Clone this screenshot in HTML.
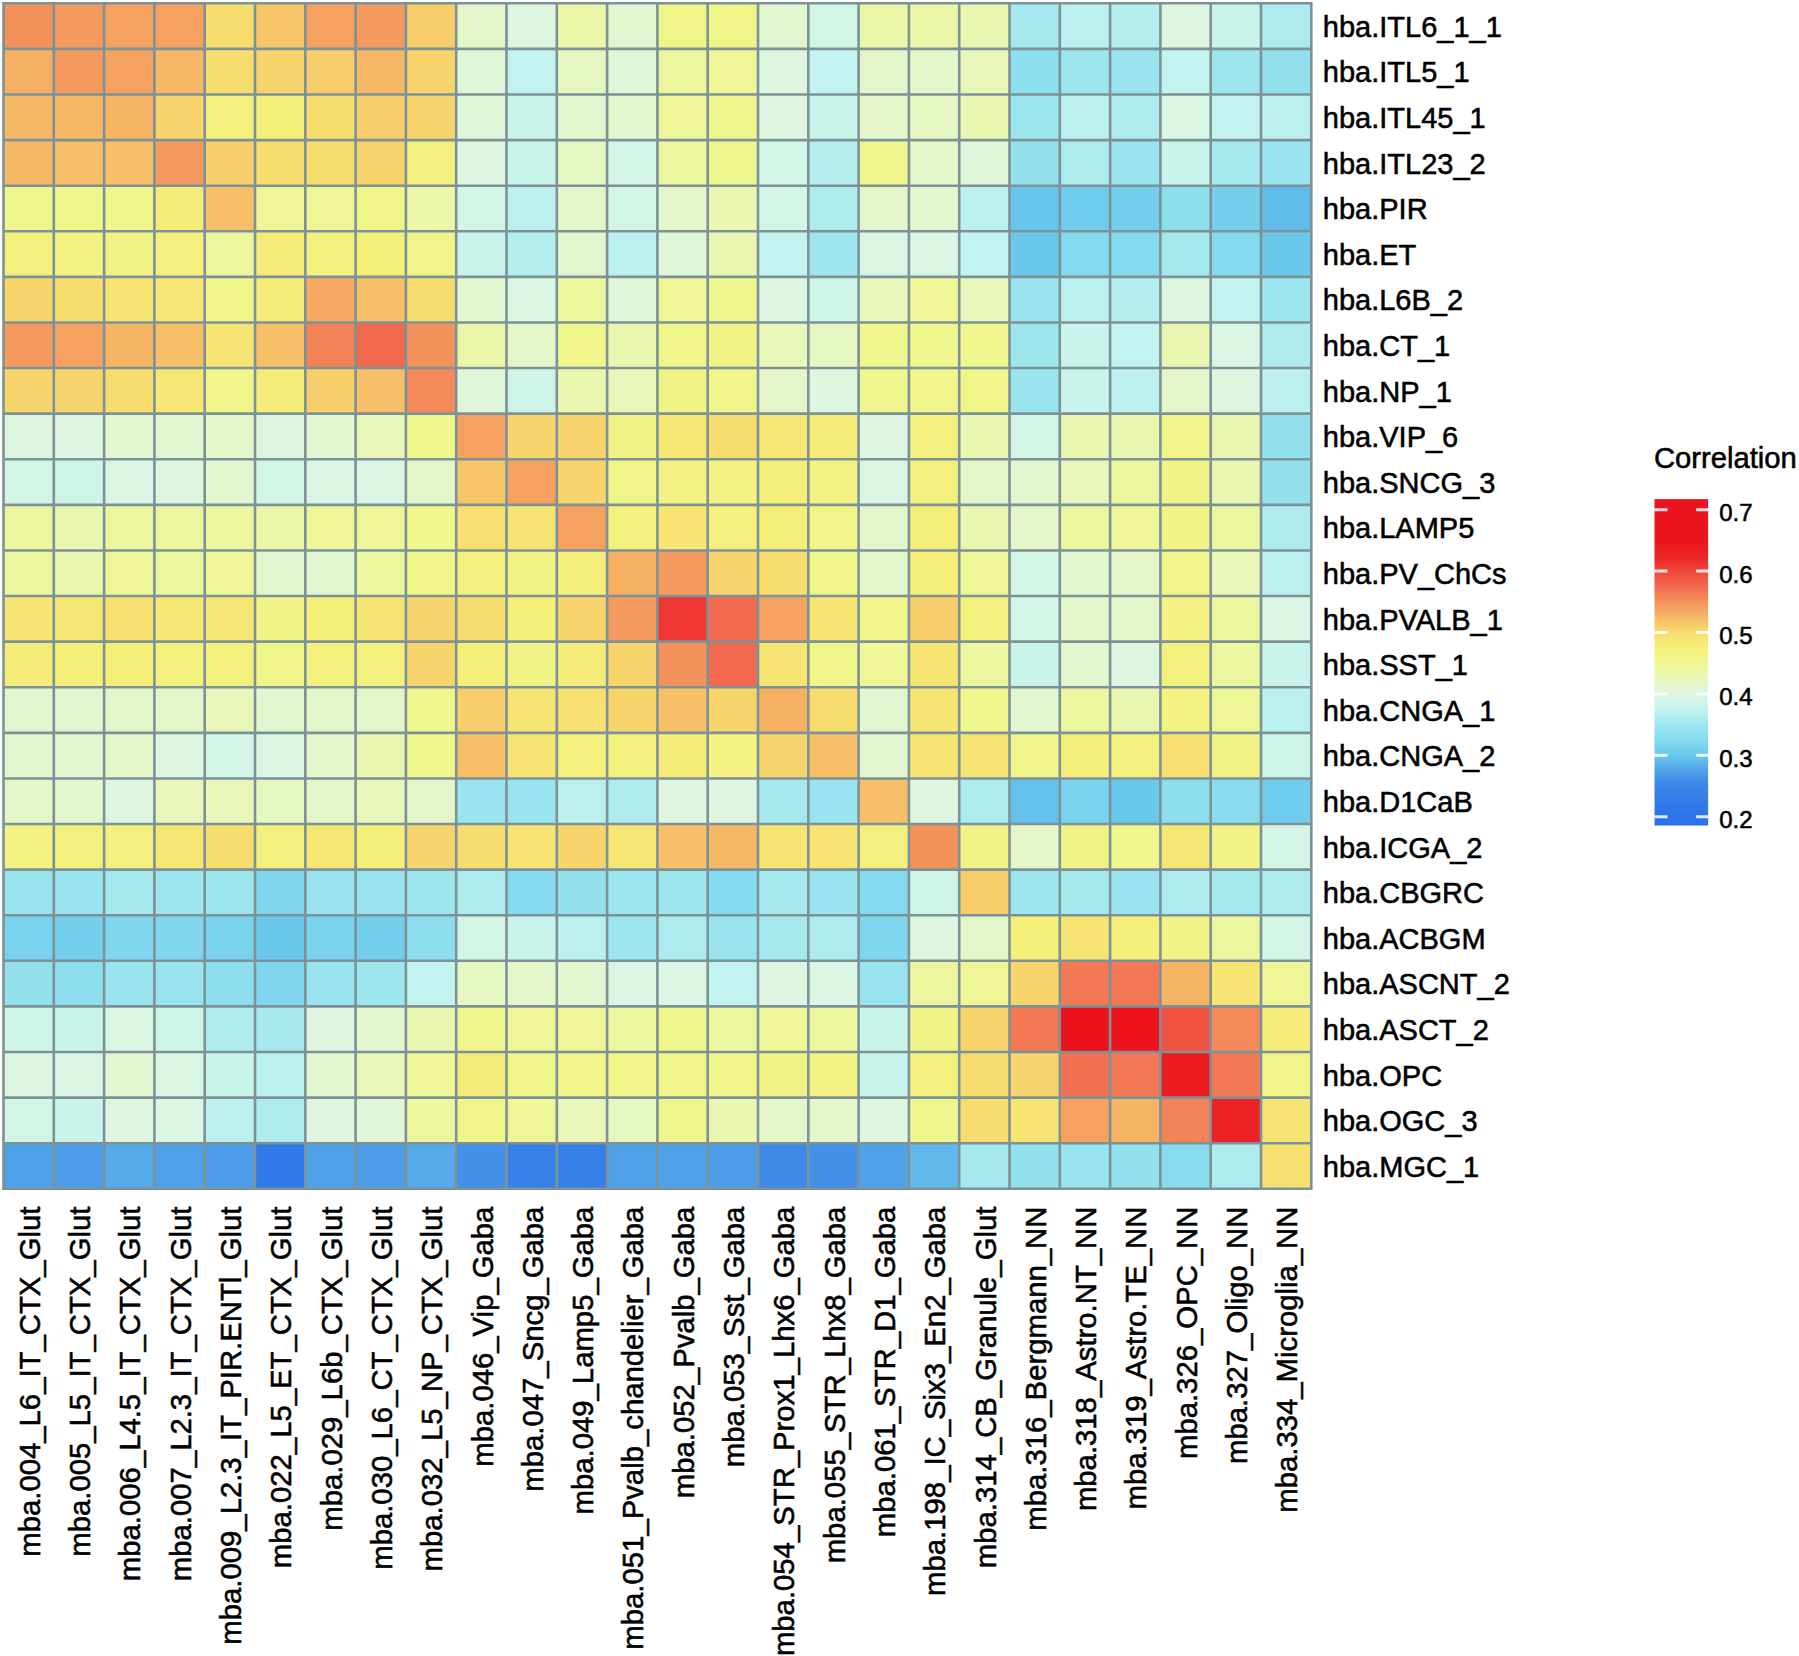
<!DOCTYPE html><html><head><meta charset="utf-8"><style>html,body{margin:0;padding:0;background:#fff;width:1799px;height:1656px;overflow:hidden}svg{display:block}text{font-family:"Liberation Sans",Arial,Helvetica,sans-serif;fill:#000;stroke:#000;stroke-width:0.55px}</style></head><body>
<svg width="1799" height="1656" viewBox="0 0 1799 1656">
<rect x="3.50" y="3.30" width="50.30" height="45.60" fill="#f4925c"/>
<rect x="53.80" y="3.30" width="50.30" height="45.60" fill="#f49a5e"/>
<rect x="104.10" y="3.30" width="50.30" height="45.60" fill="#f5a160"/>
<rect x="154.40" y="3.30" width="50.30" height="45.60" fill="#f5a160"/>
<rect x="204.70" y="3.30" width="50.30" height="45.60" fill="#f7dc6e"/>
<rect x="255.00" y="3.30" width="50.30" height="45.60" fill="#f6c669"/>
<rect x="305.30" y="3.30" width="50.30" height="45.60" fill="#f5a160"/>
<rect x="355.60" y="3.30" width="50.30" height="45.60" fill="#f49a5e"/>
<rect x="405.90" y="3.30" width="50.30" height="45.60" fill="#f7ce6b"/>
<rect x="456.20" y="3.30" width="50.30" height="45.60" fill="#e4f6c9"/>
<rect x="506.50" y="3.30" width="50.30" height="45.60" fill="#def6e0"/>
<rect x="556.80" y="3.30" width="50.30" height="45.60" fill="#ebf6a8"/>
<rect x="607.10" y="3.30" width="50.30" height="45.60" fill="#e2f6d0"/>
<rect x="657.40" y="3.30" width="50.30" height="45.60" fill="#f0f58a"/>
<rect x="707.70" y="3.30" width="50.30" height="45.60" fill="#f0f58a"/>
<rect x="758.00" y="3.30" width="50.30" height="45.60" fill="#e2f6d0"/>
<rect x="808.30" y="3.30" width="50.30" height="45.60" fill="#d3f5e6"/>
<rect x="858.60" y="3.30" width="50.30" height="45.60" fill="#ebf6a8"/>
<rect x="908.90" y="3.30" width="50.30" height="45.60" fill="#ebf6a8"/>
<rect x="959.20" y="3.30" width="50.30" height="45.60" fill="#e9f6b0"/>
<rect x="1009.50" y="3.30" width="50.30" height="45.60" fill="#a5e9ee"/>
<rect x="1059.80" y="3.30" width="50.30" height="45.60" fill="#bcf0ee"/>
<rect x="1110.10" y="3.30" width="50.30" height="45.60" fill="#b4eeee"/>
<rect x="1160.40" y="3.30" width="50.30" height="45.60" fill="#def6e0"/>
<rect x="1210.70" y="3.30" width="50.30" height="45.60" fill="#c8f4eb"/>
<rect x="1261.00" y="3.30" width="50.30" height="45.60" fill="#adebee"/>
<rect x="3.50" y="48.90" width="50.30" height="45.60" fill="#f6b064"/>
<rect x="53.80" y="48.90" width="50.30" height="45.60" fill="#f49a5e"/>
<rect x="104.10" y="48.90" width="50.30" height="45.60" fill="#f5a160"/>
<rect x="154.40" y="48.90" width="50.30" height="45.60" fill="#f6b866"/>
<rect x="204.70" y="48.90" width="50.30" height="45.60" fill="#f7dc6e"/>
<rect x="255.00" y="48.90" width="50.30" height="45.60" fill="#f7d56c"/>
<rect x="305.30" y="48.90" width="50.30" height="45.60" fill="#f7ce6b"/>
<rect x="355.60" y="48.90" width="50.30" height="45.60" fill="#f6b866"/>
<rect x="405.90" y="48.90" width="50.30" height="45.60" fill="#f7d56c"/>
<rect x="456.20" y="48.90" width="50.30" height="45.60" fill="#e0f6d8"/>
<rect x="506.50" y="48.90" width="50.30" height="45.60" fill="#c3f3ee"/>
<rect x="556.80" y="48.90" width="50.30" height="45.60" fill="#e6f6c1"/>
<rect x="607.10" y="48.90" width="50.30" height="45.60" fill="#e0f6d8"/>
<rect x="657.40" y="48.90" width="50.30" height="45.60" fill="#ecf69f"/>
<rect x="707.70" y="48.90" width="50.30" height="45.60" fill="#eef697"/>
<rect x="758.00" y="48.90" width="50.30" height="45.60" fill="#def6e0"/>
<rect x="808.30" y="48.90" width="50.30" height="45.60" fill="#c3f3ee"/>
<rect x="858.60" y="48.90" width="50.30" height="45.60" fill="#e4f6c9"/>
<rect x="908.90" y="48.90" width="50.30" height="45.60" fill="#e4f6c9"/>
<rect x="959.20" y="48.90" width="50.30" height="45.60" fill="#e8f6b9"/>
<rect x="1009.50" y="48.90" width="50.30" height="45.60" fill="#8edfee"/>
<rect x="1059.80" y="48.90" width="50.30" height="45.60" fill="#9ee6ee"/>
<rect x="1110.10" y="48.90" width="50.30" height="45.60" fill="#99e4ee"/>
<rect x="1160.40" y="48.90" width="50.30" height="45.60" fill="#c3f3ee"/>
<rect x="1210.70" y="48.90" width="50.30" height="45.60" fill="#9ee6ee"/>
<rect x="1261.00" y="48.90" width="50.30" height="45.60" fill="#94e1ee"/>
<rect x="3.50" y="94.49" width="50.30" height="45.60" fill="#f6b866"/>
<rect x="53.80" y="94.49" width="50.30" height="45.60" fill="#f6b866"/>
<rect x="104.10" y="94.49" width="50.30" height="45.60" fill="#f6b565"/>
<rect x="154.40" y="94.49" width="50.30" height="45.60" fill="#f7d56c"/>
<rect x="204.70" y="94.49" width="50.30" height="45.60" fill="#f4f07e"/>
<rect x="255.00" y="94.49" width="50.30" height="45.60" fill="#f5ef7a"/>
<rect x="305.30" y="94.49" width="50.30" height="45.60" fill="#f7dc6e"/>
<rect x="355.60" y="94.49" width="50.30" height="45.60" fill="#f7ce6b"/>
<rect x="405.90" y="94.49" width="50.30" height="45.60" fill="#f7d56c"/>
<rect x="456.20" y="94.49" width="50.30" height="45.60" fill="#e0f6d8"/>
<rect x="506.50" y="94.49" width="50.30" height="45.60" fill="#c8f4eb"/>
<rect x="556.80" y="94.49" width="50.30" height="45.60" fill="#e2f6d0"/>
<rect x="607.10" y="94.49" width="50.30" height="45.60" fill="#e2f6d0"/>
<rect x="657.40" y="94.49" width="50.30" height="45.60" fill="#eef697"/>
<rect x="707.70" y="94.49" width="50.30" height="45.60" fill="#eff68e"/>
<rect x="758.00" y="94.49" width="50.30" height="45.60" fill="#def6e0"/>
<rect x="808.30" y="94.49" width="50.30" height="45.60" fill="#c8f4eb"/>
<rect x="858.60" y="94.49" width="50.30" height="45.60" fill="#e4f6c9"/>
<rect x="908.90" y="94.49" width="50.30" height="45.60" fill="#e6f6c1"/>
<rect x="959.20" y="94.49" width="50.30" height="45.60" fill="#e9f6b0"/>
<rect x="1009.50" y="94.49" width="50.30" height="45.60" fill="#9ee6ee"/>
<rect x="1059.80" y="94.49" width="50.30" height="45.60" fill="#bcf0ee"/>
<rect x="1110.10" y="94.49" width="50.30" height="45.60" fill="#adebee"/>
<rect x="1160.40" y="94.49" width="50.30" height="45.60" fill="#d9f5e3"/>
<rect x="1210.70" y="94.49" width="50.30" height="45.60" fill="#c3f3ee"/>
<rect x="1261.00" y="94.49" width="50.30" height="45.60" fill="#bcf0ee"/>
<rect x="3.50" y="140.09" width="50.30" height="45.60" fill="#f6b866"/>
<rect x="53.80" y="140.09" width="50.30" height="45.60" fill="#f6bf68"/>
<rect x="104.10" y="140.09" width="50.30" height="45.60" fill="#f6bf68"/>
<rect x="154.40" y="140.09" width="50.30" height="45.60" fill="#f49a5e"/>
<rect x="204.70" y="140.09" width="50.30" height="45.60" fill="#f7ce6b"/>
<rect x="255.00" y="140.09" width="50.30" height="45.60" fill="#f7dc6e"/>
<rect x="305.30" y="140.09" width="50.30" height="45.60" fill="#f7dc6e"/>
<rect x="355.60" y="140.09" width="50.30" height="45.60" fill="#f7d56c"/>
<rect x="405.90" y="140.09" width="50.30" height="45.60" fill="#f4f07e"/>
<rect x="456.20" y="140.09" width="50.30" height="45.60" fill="#def6e0"/>
<rect x="506.50" y="140.09" width="50.30" height="45.60" fill="#c8f4eb"/>
<rect x="556.80" y="140.09" width="50.30" height="45.60" fill="#e6f6c1"/>
<rect x="607.10" y="140.09" width="50.30" height="45.60" fill="#d3f5e6"/>
<rect x="657.40" y="140.09" width="50.30" height="45.60" fill="#ecf69f"/>
<rect x="707.70" y="140.09" width="50.30" height="45.60" fill="#eff68e"/>
<rect x="758.00" y="140.09" width="50.30" height="45.60" fill="#d3f5e6"/>
<rect x="808.30" y="140.09" width="50.30" height="45.60" fill="#b4eeee"/>
<rect x="858.60" y="140.09" width="50.30" height="45.60" fill="#eff68e"/>
<rect x="908.90" y="140.09" width="50.30" height="45.60" fill="#e4f6c9"/>
<rect x="959.20" y="140.09" width="50.30" height="45.60" fill="#e0f6d8"/>
<rect x="1009.50" y="140.09" width="50.30" height="45.60" fill="#94e1ee"/>
<rect x="1059.80" y="140.09" width="50.30" height="45.60" fill="#adebee"/>
<rect x="1110.10" y="140.09" width="50.30" height="45.60" fill="#99e4ee"/>
<rect x="1160.40" y="140.09" width="50.30" height="45.60" fill="#c8f4eb"/>
<rect x="1210.70" y="140.09" width="50.30" height="45.60" fill="#a5e9ee"/>
<rect x="1261.00" y="140.09" width="50.30" height="45.60" fill="#99e4ee"/>
<rect x="3.50" y="185.68" width="50.30" height="45.60" fill="#eff68e"/>
<rect x="53.80" y="185.68" width="50.30" height="45.60" fill="#eff68e"/>
<rect x="104.10" y="185.68" width="50.30" height="45.60" fill="#eff68e"/>
<rect x="154.40" y="185.68" width="50.30" height="45.60" fill="#f5eb78"/>
<rect x="204.70" y="185.68" width="50.30" height="45.60" fill="#f6bf68"/>
<rect x="255.00" y="185.68" width="50.30" height="45.60" fill="#eef697"/>
<rect x="305.30" y="185.68" width="50.30" height="45.60" fill="#eef697"/>
<rect x="355.60" y="185.68" width="50.30" height="45.60" fill="#f0f58a"/>
<rect x="405.90" y="185.68" width="50.30" height="45.60" fill="#ebf6a8"/>
<rect x="456.20" y="185.68" width="50.30" height="45.60" fill="#d3f5e6"/>
<rect x="506.50" y="185.68" width="50.30" height="45.60" fill="#bcf0ee"/>
<rect x="556.80" y="185.68" width="50.30" height="45.60" fill="#e4f6c9"/>
<rect x="607.10" y="185.68" width="50.30" height="45.60" fill="#d3f5e6"/>
<rect x="657.40" y="185.68" width="50.30" height="45.60" fill="#e4f6c9"/>
<rect x="707.70" y="185.68" width="50.30" height="45.60" fill="#e9f6b0"/>
<rect x="758.00" y="185.68" width="50.30" height="45.60" fill="#d3f5e6"/>
<rect x="808.30" y="185.68" width="50.30" height="45.60" fill="#adebee"/>
<rect x="858.60" y="185.68" width="50.30" height="45.60" fill="#e4f6c9"/>
<rect x="908.90" y="185.68" width="50.30" height="45.60" fill="#e2f6d0"/>
<rect x="959.20" y="185.68" width="50.30" height="45.60" fill="#bcf0ee"/>
<rect x="1009.50" y="185.68" width="50.30" height="45.60" fill="#68c5ec"/>
<rect x="1059.80" y="185.68" width="50.30" height="45.60" fill="#6fccec"/>
<rect x="1110.10" y="185.68" width="50.30" height="45.60" fill="#74cfed"/>
<rect x="1160.40" y="185.68" width="50.30" height="45.60" fill="#8edfee"/>
<rect x="1210.70" y="185.68" width="50.30" height="45.60" fill="#74cfed"/>
<rect x="1261.00" y="185.68" width="50.30" height="45.60" fill="#62bceb"/>
<rect x="3.50" y="231.28" width="50.30" height="45.60" fill="#f4f07e"/>
<rect x="53.80" y="231.28" width="50.30" height="45.60" fill="#f3f282"/>
<rect x="104.10" y="231.28" width="50.30" height="45.60" fill="#f1f386"/>
<rect x="154.40" y="231.28" width="50.30" height="45.60" fill="#f4f07e"/>
<rect x="204.70" y="231.28" width="50.30" height="45.60" fill="#ecf69f"/>
<rect x="255.00" y="231.28" width="50.30" height="45.60" fill="#f5eb78"/>
<rect x="305.30" y="231.28" width="50.30" height="45.60" fill="#f4f07e"/>
<rect x="355.60" y="231.28" width="50.30" height="45.60" fill="#f5ef7a"/>
<rect x="405.90" y="231.28" width="50.30" height="45.60" fill="#f0f58a"/>
<rect x="456.20" y="231.28" width="50.30" height="45.60" fill="#c8f4eb"/>
<rect x="506.50" y="231.28" width="50.30" height="45.60" fill="#b4eeee"/>
<rect x="556.80" y="231.28" width="50.30" height="45.60" fill="#e2f6d0"/>
<rect x="607.10" y="231.28" width="50.30" height="45.60" fill="#bcf0ee"/>
<rect x="657.40" y="231.28" width="50.30" height="45.60" fill="#e0f6d8"/>
<rect x="707.70" y="231.28" width="50.30" height="45.60" fill="#e9f6b0"/>
<rect x="758.00" y="231.28" width="50.30" height="45.60" fill="#c3f3ee"/>
<rect x="808.30" y="231.28" width="50.30" height="45.60" fill="#9ee6ee"/>
<rect x="858.60" y="231.28" width="50.30" height="45.60" fill="#d9f5e3"/>
<rect x="908.90" y="231.28" width="50.30" height="45.60" fill="#d9f5e3"/>
<rect x="959.20" y="231.28" width="50.30" height="45.60" fill="#c3f3ee"/>
<rect x="1009.50" y="231.28" width="50.30" height="45.60" fill="#6ac8ec"/>
<rect x="1059.80" y="231.28" width="50.30" height="45.60" fill="#84daee"/>
<rect x="1110.10" y="231.28" width="50.30" height="45.60" fill="#84daee"/>
<rect x="1160.40" y="231.28" width="50.30" height="45.60" fill="#a5e9ee"/>
<rect x="1210.70" y="231.28" width="50.30" height="45.60" fill="#84daee"/>
<rect x="1261.00" y="231.28" width="50.30" height="45.60" fill="#6ac8ec"/>
<rect x="3.50" y="276.88" width="50.30" height="45.60" fill="#f7d56c"/>
<rect x="53.80" y="276.88" width="50.30" height="45.60" fill="#f7dc6e"/>
<rect x="104.10" y="276.88" width="50.30" height="45.60" fill="#f6e473"/>
<rect x="154.40" y="276.88" width="50.30" height="45.60" fill="#f6e775"/>
<rect x="204.70" y="276.88" width="50.30" height="45.60" fill="#f0f58a"/>
<rect x="255.00" y="276.88" width="50.30" height="45.60" fill="#f5eb78"/>
<rect x="305.30" y="276.88" width="50.30" height="45.60" fill="#f5a962"/>
<rect x="355.60" y="276.88" width="50.30" height="45.60" fill="#f6bf68"/>
<rect x="405.90" y="276.88" width="50.30" height="45.60" fill="#f7dc6e"/>
<rect x="456.20" y="276.88" width="50.30" height="45.60" fill="#e2f6d0"/>
<rect x="506.50" y="276.88" width="50.30" height="45.60" fill="#d9f5e3"/>
<rect x="556.80" y="276.88" width="50.30" height="45.60" fill="#ecf69f"/>
<rect x="607.10" y="276.88" width="50.30" height="45.60" fill="#e0f6d8"/>
<rect x="657.40" y="276.88" width="50.30" height="45.60" fill="#eef697"/>
<rect x="707.70" y="276.88" width="50.30" height="45.60" fill="#eff68e"/>
<rect x="758.00" y="276.88" width="50.30" height="45.60" fill="#def6e0"/>
<rect x="808.30" y="276.88" width="50.30" height="45.60" fill="#cef4e8"/>
<rect x="858.60" y="276.88" width="50.30" height="45.60" fill="#e8f6b9"/>
<rect x="908.90" y="276.88" width="50.30" height="45.60" fill="#eef697"/>
<rect x="959.20" y="276.88" width="50.30" height="45.60" fill="#e8f6b9"/>
<rect x="1009.50" y="276.88" width="50.30" height="45.60" fill="#99e4ee"/>
<rect x="1059.80" y="276.88" width="50.30" height="45.60" fill="#bcf0ee"/>
<rect x="1110.10" y="276.88" width="50.30" height="45.60" fill="#b4eeee"/>
<rect x="1160.40" y="276.88" width="50.30" height="45.60" fill="#def6e0"/>
<rect x="1210.70" y="276.88" width="50.30" height="45.60" fill="#c3f3ee"/>
<rect x="1261.00" y="276.88" width="50.30" height="45.60" fill="#9ee6ee"/>
<rect x="3.50" y="322.47" width="50.30" height="45.60" fill="#f49a5e"/>
<rect x="53.80" y="322.47" width="50.30" height="45.60" fill="#f5a160"/>
<rect x="104.10" y="322.47" width="50.30" height="45.60" fill="#f6b565"/>
<rect x="154.40" y="322.47" width="50.30" height="45.60" fill="#f6bf68"/>
<rect x="204.70" y="322.47" width="50.30" height="45.60" fill="#f6e473"/>
<rect x="255.00" y="322.47" width="50.30" height="45.60" fill="#f6bf68"/>
<rect x="305.30" y="322.47" width="50.30" height="45.60" fill="#f38256"/>
<rect x="355.60" y="322.47" width="50.30" height="45.60" fill="#f2694e"/>
<rect x="405.90" y="322.47" width="50.30" height="45.60" fill="#f4925c"/>
<rect x="456.20" y="322.47" width="50.30" height="45.60" fill="#ebf6a8"/>
<rect x="506.50" y="322.47" width="50.30" height="45.60" fill="#e4f6c9"/>
<rect x="556.80" y="322.47" width="50.30" height="45.60" fill="#f0f58a"/>
<rect x="607.10" y="322.47" width="50.30" height="45.60" fill="#e9f6b0"/>
<rect x="657.40" y="322.47" width="50.30" height="45.60" fill="#f0f58a"/>
<rect x="707.70" y="322.47" width="50.30" height="45.60" fill="#f1f386"/>
<rect x="758.00" y="322.47" width="50.30" height="45.60" fill="#e8f6b9"/>
<rect x="808.30" y="322.47" width="50.30" height="45.60" fill="#e6f6c1"/>
<rect x="858.60" y="322.47" width="50.30" height="45.60" fill="#eff68e"/>
<rect x="908.90" y="322.47" width="50.30" height="45.60" fill="#eff68e"/>
<rect x="959.20" y="322.47" width="50.30" height="45.60" fill="#eff68e"/>
<rect x="1009.50" y="322.47" width="50.30" height="45.60" fill="#9ee6ee"/>
<rect x="1059.80" y="322.47" width="50.30" height="45.60" fill="#c8f4eb"/>
<rect x="1110.10" y="322.47" width="50.30" height="45.60" fill="#c3f3ee"/>
<rect x="1160.40" y="322.47" width="50.30" height="45.60" fill="#e9f6b0"/>
<rect x="1210.70" y="322.47" width="50.30" height="45.60" fill="#d9f5e3"/>
<rect x="1261.00" y="322.47" width="50.30" height="45.60" fill="#adebee"/>
<rect x="3.50" y="368.07" width="50.30" height="45.60" fill="#f7d56c"/>
<rect x="53.80" y="368.07" width="50.30" height="45.60" fill="#f7d56c"/>
<rect x="104.10" y="368.07" width="50.30" height="45.60" fill="#f7dc6e"/>
<rect x="154.40" y="368.07" width="50.30" height="45.60" fill="#f6e775"/>
<rect x="204.70" y="368.07" width="50.30" height="45.60" fill="#f0f58a"/>
<rect x="255.00" y="368.07" width="50.30" height="45.60" fill="#f5eb78"/>
<rect x="305.30" y="368.07" width="50.30" height="45.60" fill="#f7ce6b"/>
<rect x="355.60" y="368.07" width="50.30" height="45.60" fill="#f6bf68"/>
<rect x="405.90" y="368.07" width="50.30" height="45.60" fill="#f48a59"/>
<rect x="456.20" y="368.07" width="50.30" height="45.60" fill="#e0f6d8"/>
<rect x="506.50" y="368.07" width="50.30" height="45.60" fill="#cef4e8"/>
<rect x="556.80" y="368.07" width="50.30" height="45.60" fill="#e9f6b0"/>
<rect x="607.10" y="368.07" width="50.30" height="45.60" fill="#e8f6b9"/>
<rect x="657.40" y="368.07" width="50.30" height="45.60" fill="#f1f386"/>
<rect x="707.70" y="368.07" width="50.30" height="45.60" fill="#f0f58a"/>
<rect x="758.00" y="368.07" width="50.30" height="45.60" fill="#e4f6c9"/>
<rect x="808.30" y="368.07" width="50.30" height="45.60" fill="#def6e0"/>
<rect x="858.60" y="368.07" width="50.30" height="45.60" fill="#eff68e"/>
<rect x="908.90" y="368.07" width="50.30" height="45.60" fill="#f0f58a"/>
<rect x="959.20" y="368.07" width="50.30" height="45.60" fill="#f0f58a"/>
<rect x="1009.50" y="368.07" width="50.30" height="45.60" fill="#99e4ee"/>
<rect x="1059.80" y="368.07" width="50.30" height="45.60" fill="#c8f4eb"/>
<rect x="1110.10" y="368.07" width="50.30" height="45.60" fill="#bcf0ee"/>
<rect x="1160.40" y="368.07" width="50.30" height="45.60" fill="#e4f6c9"/>
<rect x="1210.70" y="368.07" width="50.30" height="45.60" fill="#def6e0"/>
<rect x="1261.00" y="368.07" width="50.30" height="45.60" fill="#bcf0ee"/>
<rect x="3.50" y="413.66" width="50.30" height="45.60" fill="#def6e0"/>
<rect x="53.80" y="413.66" width="50.30" height="45.60" fill="#def6e0"/>
<rect x="104.10" y="413.66" width="50.30" height="45.60" fill="#e2f6d0"/>
<rect x="154.40" y="413.66" width="50.30" height="45.60" fill="#e2f6d0"/>
<rect x="204.70" y="413.66" width="50.30" height="45.60" fill="#e4f6c9"/>
<rect x="255.00" y="413.66" width="50.30" height="45.60" fill="#def6e0"/>
<rect x="305.30" y="413.66" width="50.30" height="45.60" fill="#e2f6d0"/>
<rect x="355.60" y="413.66" width="50.30" height="45.60" fill="#e8f6b9"/>
<rect x="405.90" y="413.66" width="50.30" height="45.60" fill="#eff68e"/>
<rect x="456.20" y="413.66" width="50.30" height="45.60" fill="#f5a160"/>
<rect x="506.50" y="413.66" width="50.30" height="45.60" fill="#f7d56c"/>
<rect x="556.80" y="413.66" width="50.30" height="45.60" fill="#f7d56c"/>
<rect x="607.10" y="413.66" width="50.30" height="45.60" fill="#f1f386"/>
<rect x="657.40" y="413.66" width="50.30" height="45.60" fill="#f6e775"/>
<rect x="707.70" y="413.66" width="50.30" height="45.60" fill="#f7dc6e"/>
<rect x="758.00" y="413.66" width="50.30" height="45.60" fill="#f6e775"/>
<rect x="808.30" y="413.66" width="50.30" height="45.60" fill="#f5eb78"/>
<rect x="858.60" y="413.66" width="50.30" height="45.60" fill="#def6e0"/>
<rect x="908.90" y="413.66" width="50.30" height="45.60" fill="#f4f07e"/>
<rect x="959.20" y="413.66" width="50.30" height="45.60" fill="#e9f6b0"/>
<rect x="1009.50" y="413.66" width="50.30" height="45.60" fill="#d3f5e6"/>
<rect x="1059.80" y="413.66" width="50.30" height="45.60" fill="#e9f6b0"/>
<rect x="1110.10" y="413.66" width="50.30" height="45.60" fill="#e9f6b0"/>
<rect x="1160.40" y="413.66" width="50.30" height="45.60" fill="#f0f58a"/>
<rect x="1210.70" y="413.66" width="50.30" height="45.60" fill="#e9f6b0"/>
<rect x="1261.00" y="413.66" width="50.30" height="45.60" fill="#94e1ee"/>
<rect x="3.50" y="459.26" width="50.30" height="45.60" fill="#d3f5e6"/>
<rect x="53.80" y="459.26" width="50.30" height="45.60" fill="#cef4e8"/>
<rect x="104.10" y="459.26" width="50.30" height="45.60" fill="#d9f5e3"/>
<rect x="154.40" y="459.26" width="50.30" height="45.60" fill="#def6e0"/>
<rect x="204.70" y="459.26" width="50.30" height="45.60" fill="#e2f6d0"/>
<rect x="255.00" y="459.26" width="50.30" height="45.60" fill="#d3f5e6"/>
<rect x="305.30" y="459.26" width="50.30" height="45.60" fill="#d9f5e3"/>
<rect x="355.60" y="459.26" width="50.30" height="45.60" fill="#d9f5e3"/>
<rect x="405.90" y="459.26" width="50.30" height="45.60" fill="#e4f6c9"/>
<rect x="456.20" y="459.26" width="50.30" height="45.60" fill="#f6c669"/>
<rect x="506.50" y="459.26" width="50.30" height="45.60" fill="#f5a160"/>
<rect x="556.80" y="459.26" width="50.30" height="45.60" fill="#f7d56c"/>
<rect x="607.10" y="459.26" width="50.30" height="45.60" fill="#f0f58a"/>
<rect x="657.40" y="459.26" width="50.30" height="45.60" fill="#f3f282"/>
<rect x="707.70" y="459.26" width="50.30" height="45.60" fill="#f3f282"/>
<rect x="758.00" y="459.26" width="50.30" height="45.60" fill="#f5ef7a"/>
<rect x="808.30" y="459.26" width="50.30" height="45.60" fill="#f3f282"/>
<rect x="858.60" y="459.26" width="50.30" height="45.60" fill="#d9f5e3"/>
<rect x="908.90" y="459.26" width="50.30" height="45.60" fill="#f4f07e"/>
<rect x="959.20" y="459.26" width="50.30" height="45.60" fill="#e4f6c9"/>
<rect x="1009.50" y="459.26" width="50.30" height="45.60" fill="#e2f6d0"/>
<rect x="1059.80" y="459.26" width="50.30" height="45.60" fill="#e8f6b9"/>
<rect x="1110.10" y="459.26" width="50.30" height="45.60" fill="#ecf69f"/>
<rect x="1160.40" y="459.26" width="50.30" height="45.60" fill="#f1f386"/>
<rect x="1210.70" y="459.26" width="50.30" height="45.60" fill="#e9f6b0"/>
<rect x="1261.00" y="459.26" width="50.30" height="45.60" fill="#94e1ee"/>
<rect x="3.50" y="504.86" width="50.30" height="45.60" fill="#ecf69f"/>
<rect x="53.80" y="504.86" width="50.30" height="45.60" fill="#e9f6b0"/>
<rect x="104.10" y="504.86" width="50.30" height="45.60" fill="#ecf69f"/>
<rect x="154.40" y="504.86" width="50.30" height="45.60" fill="#ecf69f"/>
<rect x="204.70" y="504.86" width="50.30" height="45.60" fill="#ecf69f"/>
<rect x="255.00" y="504.86" width="50.30" height="45.60" fill="#ebf6a8"/>
<rect x="305.30" y="504.86" width="50.30" height="45.60" fill="#eef697"/>
<rect x="355.60" y="504.86" width="50.30" height="45.60" fill="#eef697"/>
<rect x="405.90" y="504.86" width="50.30" height="45.60" fill="#eff68e"/>
<rect x="456.20" y="504.86" width="50.30" height="45.60" fill="#f7e070"/>
<rect x="506.50" y="504.86" width="50.30" height="45.60" fill="#f6e473"/>
<rect x="556.80" y="504.86" width="50.30" height="45.60" fill="#f5a160"/>
<rect x="607.10" y="504.86" width="50.30" height="45.60" fill="#f4f07e"/>
<rect x="657.40" y="504.86" width="50.30" height="45.60" fill="#f6e473"/>
<rect x="707.70" y="504.86" width="50.30" height="45.60" fill="#f4f07e"/>
<rect x="758.00" y="504.86" width="50.30" height="45.60" fill="#f5ef7a"/>
<rect x="808.30" y="504.86" width="50.30" height="45.60" fill="#f0f58a"/>
<rect x="858.60" y="504.86" width="50.30" height="45.60" fill="#e4f6c9"/>
<rect x="908.90" y="504.86" width="50.30" height="45.60" fill="#f5ef7a"/>
<rect x="959.20" y="504.86" width="50.30" height="45.60" fill="#e9f6b0"/>
<rect x="1009.50" y="504.86" width="50.30" height="45.60" fill="#e4f6c9"/>
<rect x="1059.80" y="504.86" width="50.30" height="45.60" fill="#ecf69f"/>
<rect x="1110.10" y="504.86" width="50.30" height="45.60" fill="#eef697"/>
<rect x="1160.40" y="504.86" width="50.30" height="45.60" fill="#f1f386"/>
<rect x="1210.70" y="504.86" width="50.30" height="45.60" fill="#ecf69f"/>
<rect x="1261.00" y="504.86" width="50.30" height="45.60" fill="#adebee"/>
<rect x="3.50" y="550.45" width="50.30" height="45.60" fill="#ecf69f"/>
<rect x="53.80" y="550.45" width="50.30" height="45.60" fill="#e9f6b0"/>
<rect x="104.10" y="550.45" width="50.30" height="45.60" fill="#eef697"/>
<rect x="154.40" y="550.45" width="50.30" height="45.60" fill="#ecf69f"/>
<rect x="204.70" y="550.45" width="50.30" height="45.60" fill="#eef697"/>
<rect x="255.00" y="550.45" width="50.30" height="45.60" fill="#e2f6d0"/>
<rect x="305.30" y="550.45" width="50.30" height="45.60" fill="#e2f6d0"/>
<rect x="355.60" y="550.45" width="50.30" height="45.60" fill="#ecf69f"/>
<rect x="405.90" y="550.45" width="50.30" height="45.60" fill="#f0f58a"/>
<rect x="456.20" y="550.45" width="50.30" height="45.60" fill="#f4f07e"/>
<rect x="506.50" y="550.45" width="50.30" height="45.60" fill="#f1f386"/>
<rect x="556.80" y="550.45" width="50.30" height="45.60" fill="#f5ef7a"/>
<rect x="607.10" y="550.45" width="50.30" height="45.60" fill="#f6b064"/>
<rect x="657.40" y="550.45" width="50.30" height="45.60" fill="#f49a5e"/>
<rect x="707.70" y="550.45" width="50.30" height="45.60" fill="#f7d56c"/>
<rect x="758.00" y="550.45" width="50.30" height="45.60" fill="#f7dc6e"/>
<rect x="808.30" y="550.45" width="50.30" height="45.60" fill="#f0f58a"/>
<rect x="858.60" y="550.45" width="50.30" height="45.60" fill="#e4f6c9"/>
<rect x="908.90" y="550.45" width="50.30" height="45.60" fill="#f5ef7a"/>
<rect x="959.20" y="550.45" width="50.30" height="45.60" fill="#eef697"/>
<rect x="1009.50" y="550.45" width="50.30" height="45.60" fill="#d3f5e6"/>
<rect x="1059.80" y="550.45" width="50.30" height="45.60" fill="#e2f6d0"/>
<rect x="1110.10" y="550.45" width="50.30" height="45.60" fill="#e4f6c9"/>
<rect x="1160.40" y="550.45" width="50.30" height="45.60" fill="#f0f58a"/>
<rect x="1210.70" y="550.45" width="50.30" height="45.60" fill="#e8f6b9"/>
<rect x="1261.00" y="550.45" width="50.30" height="45.60" fill="#bcf0ee"/>
<rect x="3.50" y="596.05" width="50.30" height="45.60" fill="#f6e473"/>
<rect x="53.80" y="596.05" width="50.30" height="45.60" fill="#f6e775"/>
<rect x="104.10" y="596.05" width="50.30" height="45.60" fill="#f7e070"/>
<rect x="154.40" y="596.05" width="50.30" height="45.60" fill="#f6e775"/>
<rect x="204.70" y="596.05" width="50.30" height="45.60" fill="#f6e775"/>
<rect x="255.00" y="596.05" width="50.30" height="45.60" fill="#f1f386"/>
<rect x="305.30" y="596.05" width="50.30" height="45.60" fill="#f5ef7a"/>
<rect x="355.60" y="596.05" width="50.30" height="45.60" fill="#f6e473"/>
<rect x="405.90" y="596.05" width="50.30" height="45.60" fill="#f7d56c"/>
<rect x="456.20" y="596.05" width="50.30" height="45.60" fill="#f7dc6e"/>
<rect x="506.50" y="596.05" width="50.30" height="45.60" fill="#f5ef7a"/>
<rect x="556.80" y="596.05" width="50.30" height="45.60" fill="#f7d56c"/>
<rect x="607.10" y="596.05" width="50.30" height="45.60" fill="#f49a5e"/>
<rect x="657.40" y="596.05" width="50.30" height="45.60" fill="#ee3732"/>
<rect x="707.70" y="596.05" width="50.30" height="45.60" fill="#f2694e"/>
<rect x="758.00" y="596.05" width="50.30" height="45.60" fill="#f5a160"/>
<rect x="808.30" y="596.05" width="50.30" height="45.60" fill="#f6e473"/>
<rect x="858.60" y="596.05" width="50.30" height="45.60" fill="#f0f58a"/>
<rect x="908.90" y="596.05" width="50.30" height="45.60" fill="#f7ce6b"/>
<rect x="959.20" y="596.05" width="50.30" height="45.60" fill="#f4f07e"/>
<rect x="1009.50" y="596.05" width="50.30" height="45.60" fill="#d3f5e6"/>
<rect x="1059.80" y="596.05" width="50.30" height="45.60" fill="#e4f6c9"/>
<rect x="1110.10" y="596.05" width="50.30" height="45.60" fill="#e4f6c9"/>
<rect x="1160.40" y="596.05" width="50.30" height="45.60" fill="#f3f282"/>
<rect x="1210.70" y="596.05" width="50.30" height="45.60" fill="#ecf69f"/>
<rect x="1261.00" y="596.05" width="50.30" height="45.60" fill="#d9f5e3"/>
<rect x="3.50" y="641.64" width="50.30" height="45.60" fill="#f5eb78"/>
<rect x="53.80" y="641.64" width="50.30" height="45.60" fill="#f5ef7a"/>
<rect x="104.10" y="641.64" width="50.30" height="45.60" fill="#f5ef7a"/>
<rect x="154.40" y="641.64" width="50.30" height="45.60" fill="#f4f07e"/>
<rect x="204.70" y="641.64" width="50.30" height="45.60" fill="#f4f07e"/>
<rect x="255.00" y="641.64" width="50.30" height="45.60" fill="#f0f58a"/>
<rect x="305.30" y="641.64" width="50.30" height="45.60" fill="#f4f07e"/>
<rect x="355.60" y="641.64" width="50.30" height="45.60" fill="#f4f07e"/>
<rect x="405.90" y="641.64" width="50.30" height="45.60" fill="#f7d56c"/>
<rect x="456.20" y="641.64" width="50.30" height="45.60" fill="#f5ef7a"/>
<rect x="506.50" y="641.64" width="50.30" height="45.60" fill="#f1f386"/>
<rect x="556.80" y="641.64" width="50.30" height="45.60" fill="#f5eb78"/>
<rect x="607.10" y="641.64" width="50.30" height="45.60" fill="#f7d56c"/>
<rect x="657.40" y="641.64" width="50.30" height="45.60" fill="#f4925c"/>
<rect x="707.70" y="641.64" width="50.30" height="45.60" fill="#f2694e"/>
<rect x="758.00" y="641.64" width="50.30" height="45.60" fill="#f6e473"/>
<rect x="808.30" y="641.64" width="50.30" height="45.60" fill="#f0f58a"/>
<rect x="858.60" y="641.64" width="50.30" height="45.60" fill="#eef697"/>
<rect x="908.90" y="641.64" width="50.30" height="45.60" fill="#f6e473"/>
<rect x="959.20" y="641.64" width="50.30" height="45.60" fill="#ecf69f"/>
<rect x="1009.50" y="641.64" width="50.30" height="45.60" fill="#c8f4eb"/>
<rect x="1059.80" y="641.64" width="50.30" height="45.60" fill="#e2f6d0"/>
<rect x="1110.10" y="641.64" width="50.30" height="45.60" fill="#def6e0"/>
<rect x="1160.40" y="641.64" width="50.30" height="45.60" fill="#f4f07e"/>
<rect x="1210.70" y="641.64" width="50.30" height="45.60" fill="#ecf69f"/>
<rect x="1261.00" y="641.64" width="50.30" height="45.60" fill="#c8f4eb"/>
<rect x="3.50" y="687.24" width="50.30" height="45.60" fill="#e2f6d0"/>
<rect x="53.80" y="687.24" width="50.30" height="45.60" fill="#e2f6d0"/>
<rect x="104.10" y="687.24" width="50.30" height="45.60" fill="#e4f6c9"/>
<rect x="154.40" y="687.24" width="50.30" height="45.60" fill="#e4f6c9"/>
<rect x="204.70" y="687.24" width="50.30" height="45.60" fill="#e8f6b9"/>
<rect x="255.00" y="687.24" width="50.30" height="45.60" fill="#e2f6d0"/>
<rect x="305.30" y="687.24" width="50.30" height="45.60" fill="#e4f6c9"/>
<rect x="355.60" y="687.24" width="50.30" height="45.60" fill="#e4f6c9"/>
<rect x="405.90" y="687.24" width="50.30" height="45.60" fill="#eff68e"/>
<rect x="456.20" y="687.24" width="50.30" height="45.60" fill="#f7ce6b"/>
<rect x="506.50" y="687.24" width="50.30" height="45.60" fill="#f6e473"/>
<rect x="556.80" y="687.24" width="50.30" height="45.60" fill="#f7e070"/>
<rect x="607.10" y="687.24" width="50.30" height="45.60" fill="#f7d56c"/>
<rect x="657.40" y="687.24" width="50.30" height="45.60" fill="#f6bf68"/>
<rect x="707.70" y="687.24" width="50.30" height="45.60" fill="#f7d56c"/>
<rect x="758.00" y="687.24" width="50.30" height="45.60" fill="#f6b064"/>
<rect x="808.30" y="687.24" width="50.30" height="45.60" fill="#f7dc6e"/>
<rect x="858.60" y="687.24" width="50.30" height="45.60" fill="#e2f6d0"/>
<rect x="908.90" y="687.24" width="50.30" height="45.60" fill="#f6e473"/>
<rect x="959.20" y="687.24" width="50.30" height="45.60" fill="#eff68e"/>
<rect x="1009.50" y="687.24" width="50.30" height="45.60" fill="#e2f6d0"/>
<rect x="1059.80" y="687.24" width="50.30" height="45.60" fill="#ecf69f"/>
<rect x="1110.10" y="687.24" width="50.30" height="45.60" fill="#e9f6b0"/>
<rect x="1160.40" y="687.24" width="50.30" height="45.60" fill="#f3f282"/>
<rect x="1210.70" y="687.24" width="50.30" height="45.60" fill="#eef697"/>
<rect x="1261.00" y="687.24" width="50.30" height="45.60" fill="#bcf0ee"/>
<rect x="3.50" y="732.84" width="50.30" height="45.60" fill="#e2f6d0"/>
<rect x="53.80" y="732.84" width="50.30" height="45.60" fill="#e2f6d0"/>
<rect x="104.10" y="732.84" width="50.30" height="45.60" fill="#e4f6c9"/>
<rect x="154.40" y="732.84" width="50.30" height="45.60" fill="#def6e0"/>
<rect x="204.70" y="732.84" width="50.30" height="45.60" fill="#d3f5e6"/>
<rect x="255.00" y="732.84" width="50.30" height="45.60" fill="#d9f5e3"/>
<rect x="305.30" y="732.84" width="50.30" height="45.60" fill="#e4f6c9"/>
<rect x="355.60" y="732.84" width="50.30" height="45.60" fill="#e9f6b0"/>
<rect x="405.90" y="732.84" width="50.30" height="45.60" fill="#eff68e"/>
<rect x="456.20" y="732.84" width="50.30" height="45.60" fill="#f6bf68"/>
<rect x="506.50" y="732.84" width="50.30" height="45.60" fill="#f6e473"/>
<rect x="556.80" y="732.84" width="50.30" height="45.60" fill="#f4f07e"/>
<rect x="607.10" y="732.84" width="50.30" height="45.60" fill="#f4f07e"/>
<rect x="657.40" y="732.84" width="50.30" height="45.60" fill="#f5eb78"/>
<rect x="707.70" y="732.84" width="50.30" height="45.60" fill="#f3f282"/>
<rect x="758.00" y="732.84" width="50.30" height="45.60" fill="#f7d56c"/>
<rect x="808.30" y="732.84" width="50.30" height="45.60" fill="#f6bf68"/>
<rect x="858.60" y="732.84" width="50.30" height="45.60" fill="#e2f6d0"/>
<rect x="908.90" y="732.84" width="50.30" height="45.60" fill="#f6e473"/>
<rect x="959.20" y="732.84" width="50.30" height="45.60" fill="#f6e473"/>
<rect x="1009.50" y="732.84" width="50.30" height="45.60" fill="#f0f58a"/>
<rect x="1059.80" y="732.84" width="50.30" height="45.60" fill="#f5ef7a"/>
<rect x="1110.10" y="732.84" width="50.30" height="45.60" fill="#f4f07e"/>
<rect x="1160.40" y="732.84" width="50.30" height="45.60" fill="#f7e070"/>
<rect x="1210.70" y="732.84" width="50.30" height="45.60" fill="#f1f386"/>
<rect x="1261.00" y="732.84" width="50.30" height="45.60" fill="#cef4e8"/>
<rect x="3.50" y="778.43" width="50.30" height="45.60" fill="#e4f6c9"/>
<rect x="53.80" y="778.43" width="50.30" height="45.60" fill="#e2f6d0"/>
<rect x="104.10" y="778.43" width="50.30" height="45.60" fill="#def6e0"/>
<rect x="154.40" y="778.43" width="50.30" height="45.60" fill="#e8f6b9"/>
<rect x="204.70" y="778.43" width="50.30" height="45.60" fill="#e8f6b9"/>
<rect x="255.00" y="778.43" width="50.30" height="45.60" fill="#e6f6c1"/>
<rect x="305.30" y="778.43" width="50.30" height="45.60" fill="#e4f6c9"/>
<rect x="355.60" y="778.43" width="50.30" height="45.60" fill="#e8f6b9"/>
<rect x="405.90" y="778.43" width="50.30" height="45.60" fill="#e4f6c9"/>
<rect x="456.20" y="778.43" width="50.30" height="45.60" fill="#99e4ee"/>
<rect x="506.50" y="778.43" width="50.30" height="45.60" fill="#99e4ee"/>
<rect x="556.80" y="778.43" width="50.30" height="45.60" fill="#bcf0ee"/>
<rect x="607.10" y="778.43" width="50.30" height="45.60" fill="#adebee"/>
<rect x="657.40" y="778.43" width="50.30" height="45.60" fill="#def6e0"/>
<rect x="707.70" y="778.43" width="50.30" height="45.60" fill="#def6e0"/>
<rect x="758.00" y="778.43" width="50.30" height="45.60" fill="#a5e9ee"/>
<rect x="808.30" y="778.43" width="50.30" height="45.60" fill="#99e4ee"/>
<rect x="858.60" y="778.43" width="50.30" height="45.60" fill="#f6bf68"/>
<rect x="908.90" y="778.43" width="50.30" height="45.60" fill="#def6e0"/>
<rect x="959.20" y="778.43" width="50.30" height="45.60" fill="#adebee"/>
<rect x="1009.50" y="778.43" width="50.30" height="45.60" fill="#65c0eb"/>
<rect x="1059.80" y="778.43" width="50.30" height="45.60" fill="#7ad3ed"/>
<rect x="1110.10" y="778.43" width="50.30" height="45.60" fill="#6ac8ec"/>
<rect x="1160.40" y="778.43" width="50.30" height="45.60" fill="#8edfee"/>
<rect x="1210.70" y="778.43" width="50.30" height="45.60" fill="#89dcee"/>
<rect x="1261.00" y="778.43" width="50.30" height="45.60" fill="#6fccec"/>
<rect x="3.50" y="824.03" width="50.30" height="45.60" fill="#f3f282"/>
<rect x="53.80" y="824.03" width="50.30" height="45.60" fill="#f4f07e"/>
<rect x="104.10" y="824.03" width="50.30" height="45.60" fill="#f4f07e"/>
<rect x="154.40" y="824.03" width="50.30" height="45.60" fill="#f6e775"/>
<rect x="204.70" y="824.03" width="50.30" height="45.60" fill="#f7dc6e"/>
<rect x="255.00" y="824.03" width="50.30" height="45.60" fill="#f4f07e"/>
<rect x="305.30" y="824.03" width="50.30" height="45.60" fill="#f6e775"/>
<rect x="355.60" y="824.03" width="50.30" height="45.60" fill="#f5ef7a"/>
<rect x="405.90" y="824.03" width="50.30" height="45.60" fill="#f7d56c"/>
<rect x="456.20" y="824.03" width="50.30" height="45.60" fill="#f7dc6e"/>
<rect x="506.50" y="824.03" width="50.30" height="45.60" fill="#f6e473"/>
<rect x="556.80" y="824.03" width="50.30" height="45.60" fill="#f7d56c"/>
<rect x="607.10" y="824.03" width="50.30" height="45.60" fill="#f6e775"/>
<rect x="657.40" y="824.03" width="50.30" height="45.60" fill="#f6bf68"/>
<rect x="707.70" y="824.03" width="50.30" height="45.60" fill="#f6b866"/>
<rect x="758.00" y="824.03" width="50.30" height="45.60" fill="#f6e473"/>
<rect x="808.30" y="824.03" width="50.30" height="45.60" fill="#f6e473"/>
<rect x="858.60" y="824.03" width="50.30" height="45.60" fill="#f4f07e"/>
<rect x="908.90" y="824.03" width="50.30" height="45.60" fill="#f4925c"/>
<rect x="959.20" y="824.03" width="50.30" height="45.60" fill="#f1f386"/>
<rect x="1009.50" y="824.03" width="50.30" height="45.60" fill="#e4f6c9"/>
<rect x="1059.80" y="824.03" width="50.30" height="45.60" fill="#f1f386"/>
<rect x="1110.10" y="824.03" width="50.30" height="45.60" fill="#eff68e"/>
<rect x="1160.40" y="824.03" width="50.30" height="45.60" fill="#f6e775"/>
<rect x="1210.70" y="824.03" width="50.30" height="45.60" fill="#f1f386"/>
<rect x="1261.00" y="824.03" width="50.30" height="45.60" fill="#d3f5e6"/>
<rect x="3.50" y="869.62" width="50.30" height="45.60" fill="#99e4ee"/>
<rect x="53.80" y="869.62" width="50.30" height="45.60" fill="#99e4ee"/>
<rect x="104.10" y="869.62" width="50.30" height="45.60" fill="#a5e9ee"/>
<rect x="154.40" y="869.62" width="50.30" height="45.60" fill="#9ee6ee"/>
<rect x="204.70" y="869.62" width="50.30" height="45.60" fill="#9ee6ee"/>
<rect x="255.00" y="869.62" width="50.30" height="45.60" fill="#7fd6ee"/>
<rect x="305.30" y="869.62" width="50.30" height="45.60" fill="#99e4ee"/>
<rect x="355.60" y="869.62" width="50.30" height="45.60" fill="#99e4ee"/>
<rect x="405.90" y="869.62" width="50.30" height="45.60" fill="#9ee6ee"/>
<rect x="456.20" y="869.62" width="50.30" height="45.60" fill="#adebee"/>
<rect x="506.50" y="869.62" width="50.30" height="45.60" fill="#84daee"/>
<rect x="556.80" y="869.62" width="50.30" height="45.60" fill="#94e1ee"/>
<rect x="607.10" y="869.62" width="50.30" height="45.60" fill="#9ee6ee"/>
<rect x="657.40" y="869.62" width="50.30" height="45.60" fill="#9ee6ee"/>
<rect x="707.70" y="869.62" width="50.30" height="45.60" fill="#84daee"/>
<rect x="758.00" y="869.62" width="50.30" height="45.60" fill="#a5e9ee"/>
<rect x="808.30" y="869.62" width="50.30" height="45.60" fill="#99e4ee"/>
<rect x="858.60" y="869.62" width="50.30" height="45.60" fill="#84daee"/>
<rect x="908.90" y="869.62" width="50.30" height="45.60" fill="#cef4e8"/>
<rect x="959.20" y="869.62" width="50.30" height="45.60" fill="#f7ce6b"/>
<rect x="1009.50" y="869.62" width="50.30" height="45.60" fill="#9ee6ee"/>
<rect x="1059.80" y="869.62" width="50.30" height="45.60" fill="#a5e9ee"/>
<rect x="1110.10" y="869.62" width="50.30" height="45.60" fill="#99e4ee"/>
<rect x="1160.40" y="869.62" width="50.30" height="45.60" fill="#adebee"/>
<rect x="1210.70" y="869.62" width="50.30" height="45.60" fill="#a5e9ee"/>
<rect x="1261.00" y="869.62" width="50.30" height="45.60" fill="#adebee"/>
<rect x="3.50" y="915.22" width="50.30" height="45.60" fill="#7ad3ed"/>
<rect x="53.80" y="915.22" width="50.30" height="45.60" fill="#74cfed"/>
<rect x="104.10" y="915.22" width="50.30" height="45.60" fill="#7fd6ee"/>
<rect x="154.40" y="915.22" width="50.30" height="45.60" fill="#7fd6ee"/>
<rect x="204.70" y="915.22" width="50.30" height="45.60" fill="#7ad3ed"/>
<rect x="255.00" y="915.22" width="50.30" height="45.60" fill="#6ac8ec"/>
<rect x="305.30" y="915.22" width="50.30" height="45.60" fill="#7ad3ed"/>
<rect x="355.60" y="915.22" width="50.30" height="45.60" fill="#74cfed"/>
<rect x="405.90" y="915.22" width="50.30" height="45.60" fill="#8edfee"/>
<rect x="456.20" y="915.22" width="50.30" height="45.60" fill="#d3f5e6"/>
<rect x="506.50" y="915.22" width="50.30" height="45.60" fill="#c8f4eb"/>
<rect x="556.80" y="915.22" width="50.30" height="45.60" fill="#bcf0ee"/>
<rect x="607.10" y="915.22" width="50.30" height="45.60" fill="#9ee6ee"/>
<rect x="657.40" y="915.22" width="50.30" height="45.60" fill="#adebee"/>
<rect x="707.70" y="915.22" width="50.30" height="45.60" fill="#99e4ee"/>
<rect x="758.00" y="915.22" width="50.30" height="45.60" fill="#a5e9ee"/>
<rect x="808.30" y="915.22" width="50.30" height="45.60" fill="#adebee"/>
<rect x="858.60" y="915.22" width="50.30" height="45.60" fill="#7fd6ee"/>
<rect x="908.90" y="915.22" width="50.30" height="45.60" fill="#def6e0"/>
<rect x="959.20" y="915.22" width="50.30" height="45.60" fill="#e4f6c9"/>
<rect x="1009.50" y="915.22" width="50.30" height="45.60" fill="#f5ef7a"/>
<rect x="1059.80" y="915.22" width="50.30" height="45.60" fill="#f6e473"/>
<rect x="1110.10" y="915.22" width="50.30" height="45.60" fill="#f5ef7a"/>
<rect x="1160.40" y="915.22" width="50.30" height="45.60" fill="#f1f386"/>
<rect x="1210.70" y="915.22" width="50.30" height="45.60" fill="#ecf69f"/>
<rect x="1261.00" y="915.22" width="50.30" height="45.60" fill="#d3f5e6"/>
<rect x="3.50" y="960.82" width="50.30" height="45.60" fill="#94e1ee"/>
<rect x="53.80" y="960.82" width="50.30" height="45.60" fill="#8edfee"/>
<rect x="104.10" y="960.82" width="50.30" height="45.60" fill="#99e4ee"/>
<rect x="154.40" y="960.82" width="50.30" height="45.60" fill="#99e4ee"/>
<rect x="204.70" y="960.82" width="50.30" height="45.60" fill="#8edfee"/>
<rect x="255.00" y="960.82" width="50.30" height="45.60" fill="#7fd6ee"/>
<rect x="305.30" y="960.82" width="50.30" height="45.60" fill="#99e4ee"/>
<rect x="355.60" y="960.82" width="50.30" height="45.60" fill="#9ee6ee"/>
<rect x="405.90" y="960.82" width="50.30" height="45.60" fill="#c3f3ee"/>
<rect x="456.20" y="960.82" width="50.30" height="45.60" fill="#e6f6c1"/>
<rect x="506.50" y="960.82" width="50.30" height="45.60" fill="#e4f6c9"/>
<rect x="556.80" y="960.82" width="50.30" height="45.60" fill="#e2f6d0"/>
<rect x="607.10" y="960.82" width="50.30" height="45.60" fill="#d9f5e3"/>
<rect x="657.40" y="960.82" width="50.30" height="45.60" fill="#d9f5e3"/>
<rect x="707.70" y="960.82" width="50.30" height="45.60" fill="#c3f3ee"/>
<rect x="758.00" y="960.82" width="50.30" height="45.60" fill="#def6e0"/>
<rect x="808.30" y="960.82" width="50.30" height="45.60" fill="#d9f5e3"/>
<rect x="858.60" y="960.82" width="50.30" height="45.60" fill="#99e4ee"/>
<rect x="908.90" y="960.82" width="50.30" height="45.60" fill="#ecf69f"/>
<rect x="959.20" y="960.82" width="50.30" height="45.60" fill="#eef697"/>
<rect x="1009.50" y="960.82" width="50.30" height="45.60" fill="#f7d56c"/>
<rect x="1059.80" y="960.82" width="50.30" height="45.60" fill="#f37954"/>
<rect x="1110.10" y="960.82" width="50.30" height="45.60" fill="#f37954"/>
<rect x="1160.40" y="960.82" width="50.30" height="45.60" fill="#f6b565"/>
<rect x="1210.70" y="960.82" width="50.30" height="45.60" fill="#f6e473"/>
<rect x="1261.00" y="960.82" width="50.30" height="45.60" fill="#eef697"/>
<rect x="3.50" y="1006.41" width="50.30" height="45.60" fill="#cef4e8"/>
<rect x="53.80" y="1006.41" width="50.30" height="45.60" fill="#c8f4eb"/>
<rect x="104.10" y="1006.41" width="50.30" height="45.60" fill="#d9f5e3"/>
<rect x="154.40" y="1006.41" width="50.30" height="45.60" fill="#cef4e8"/>
<rect x="204.70" y="1006.41" width="50.30" height="45.60" fill="#adebee"/>
<rect x="255.00" y="1006.41" width="50.30" height="45.60" fill="#a5e9ee"/>
<rect x="305.30" y="1006.41" width="50.30" height="45.60" fill="#def6e0"/>
<rect x="355.60" y="1006.41" width="50.30" height="45.60" fill="#e2f6d0"/>
<rect x="405.90" y="1006.41" width="50.30" height="45.60" fill="#e9f6b0"/>
<rect x="456.20" y="1006.41" width="50.30" height="45.60" fill="#eff68e"/>
<rect x="506.50" y="1006.41" width="50.30" height="45.60" fill="#eef697"/>
<rect x="556.80" y="1006.41" width="50.30" height="45.60" fill="#eef697"/>
<rect x="607.10" y="1006.41" width="50.30" height="45.60" fill="#ecf69f"/>
<rect x="657.40" y="1006.41" width="50.30" height="45.60" fill="#eff68e"/>
<rect x="707.70" y="1006.41" width="50.30" height="45.60" fill="#ecf69f"/>
<rect x="758.00" y="1006.41" width="50.30" height="45.60" fill="#eef697"/>
<rect x="808.30" y="1006.41" width="50.30" height="45.60" fill="#ecf69f"/>
<rect x="858.60" y="1006.41" width="50.30" height="45.60" fill="#c8f4eb"/>
<rect x="908.90" y="1006.41" width="50.30" height="45.60" fill="#f1f386"/>
<rect x="959.20" y="1006.41" width="50.30" height="45.60" fill="#f7d56c"/>
<rect x="1009.50" y="1006.41" width="50.30" height="45.60" fill="#f37954"/>
<rect x="1059.80" y="1006.41" width="50.30" height="45.60" fill="#ec121c"/>
<rect x="1110.10" y="1006.41" width="50.30" height="45.60" fill="#ec131d"/>
<rect x="1160.40" y="1006.41" width="50.30" height="45.60" fill="#f15443"/>
<rect x="1210.70" y="1006.41" width="50.30" height="45.60" fill="#f48a59"/>
<rect x="1261.00" y="1006.41" width="50.30" height="45.60" fill="#f5eb78"/>
<rect x="3.50" y="1052.01" width="50.30" height="45.60" fill="#def6e0"/>
<rect x="53.80" y="1052.01" width="50.30" height="45.60" fill="#d9f5e3"/>
<rect x="104.10" y="1052.01" width="50.30" height="45.60" fill="#e2f6d0"/>
<rect x="154.40" y="1052.01" width="50.30" height="45.60" fill="#d9f5e3"/>
<rect x="204.70" y="1052.01" width="50.30" height="45.60" fill="#c8f4eb"/>
<rect x="255.00" y="1052.01" width="50.30" height="45.60" fill="#bcf0ee"/>
<rect x="305.30" y="1052.01" width="50.30" height="45.60" fill="#e2f6d0"/>
<rect x="355.60" y="1052.01" width="50.30" height="45.60" fill="#e8f6b9"/>
<rect x="405.90" y="1052.01" width="50.30" height="45.60" fill="#eef697"/>
<rect x="456.20" y="1052.01" width="50.30" height="45.60" fill="#f5eb78"/>
<rect x="506.50" y="1052.01" width="50.30" height="45.60" fill="#f0f58a"/>
<rect x="556.80" y="1052.01" width="50.30" height="45.60" fill="#f0f58a"/>
<rect x="607.10" y="1052.01" width="50.30" height="45.60" fill="#f0f58a"/>
<rect x="657.40" y="1052.01" width="50.30" height="45.60" fill="#f0f58a"/>
<rect x="707.70" y="1052.01" width="50.30" height="45.60" fill="#f0f58a"/>
<rect x="758.00" y="1052.01" width="50.30" height="45.60" fill="#f1f386"/>
<rect x="808.30" y="1052.01" width="50.30" height="45.60" fill="#f3f282"/>
<rect x="858.60" y="1052.01" width="50.30" height="45.60" fill="#c8f4eb"/>
<rect x="908.90" y="1052.01" width="50.30" height="45.60" fill="#f4f07e"/>
<rect x="959.20" y="1052.01" width="50.30" height="45.60" fill="#f7dc6e"/>
<rect x="1009.50" y="1052.01" width="50.30" height="45.60" fill="#f7d56c"/>
<rect x="1059.80" y="1052.01" width="50.30" height="45.60" fill="#f27151"/>
<rect x="1110.10" y="1052.01" width="50.30" height="45.60" fill="#f37954"/>
<rect x="1160.40" y="1052.01" width="50.30" height="45.60" fill="#ec1b21"/>
<rect x="1210.70" y="1052.01" width="50.30" height="45.60" fill="#f37954"/>
<rect x="1261.00" y="1052.01" width="50.30" height="45.60" fill="#f0f58a"/>
<rect x="3.50" y="1097.60" width="50.30" height="45.60" fill="#d3f5e6"/>
<rect x="53.80" y="1097.60" width="50.30" height="45.60" fill="#c8f4eb"/>
<rect x="104.10" y="1097.60" width="50.30" height="45.60" fill="#def6e0"/>
<rect x="154.40" y="1097.60" width="50.30" height="45.60" fill="#d9f5e3"/>
<rect x="204.70" y="1097.60" width="50.30" height="45.60" fill="#bcf0ee"/>
<rect x="255.00" y="1097.60" width="50.30" height="45.60" fill="#adebee"/>
<rect x="305.30" y="1097.60" width="50.30" height="45.60" fill="#def6e0"/>
<rect x="355.60" y="1097.60" width="50.30" height="45.60" fill="#e0f6d8"/>
<rect x="405.90" y="1097.60" width="50.30" height="45.60" fill="#ecf69f"/>
<rect x="456.20" y="1097.60" width="50.30" height="45.60" fill="#f0f58a"/>
<rect x="506.50" y="1097.60" width="50.30" height="45.60" fill="#eef697"/>
<rect x="556.80" y="1097.60" width="50.30" height="45.60" fill="#e8f6b9"/>
<rect x="607.10" y="1097.60" width="50.30" height="45.60" fill="#e6f6c1"/>
<rect x="657.40" y="1097.60" width="50.30" height="45.60" fill="#eff68e"/>
<rect x="707.70" y="1097.60" width="50.30" height="45.60" fill="#e9f6b0"/>
<rect x="758.00" y="1097.60" width="50.30" height="45.60" fill="#e4f6c9"/>
<rect x="808.30" y="1097.60" width="50.30" height="45.60" fill="#e4f6c9"/>
<rect x="858.60" y="1097.60" width="50.30" height="45.60" fill="#def6e0"/>
<rect x="908.90" y="1097.60" width="50.30" height="45.60" fill="#eff68e"/>
<rect x="959.20" y="1097.60" width="50.30" height="45.60" fill="#f7dc6e"/>
<rect x="1009.50" y="1097.60" width="50.30" height="45.60" fill="#f6e473"/>
<rect x="1059.80" y="1097.60" width="50.30" height="45.60" fill="#f5a160"/>
<rect x="1110.10" y="1097.60" width="50.30" height="45.60" fill="#f6b565"/>
<rect x="1160.40" y="1097.60" width="50.30" height="45.60" fill="#f38256"/>
<rect x="1210.70" y="1097.60" width="50.30" height="45.60" fill="#ec2125"/>
<rect x="1261.00" y="1097.60" width="50.30" height="45.60" fill="#f6e473"/>
<rect x="3.50" y="1143.20" width="50.30" height="45.60" fill="#50a2e8"/>
<rect x="53.80" y="1143.20" width="50.30" height="45.60" fill="#4c9ce8"/>
<rect x="104.10" y="1143.20" width="50.30" height="45.60" fill="#55aae9"/>
<rect x="154.40" y="1143.20" width="50.30" height="45.60" fill="#50a2e8"/>
<rect x="204.70" y="1143.20" width="50.30" height="45.60" fill="#4c9ce8"/>
<rect x="255.00" y="1143.20" width="50.30" height="45.60" fill="#3279e9"/>
<rect x="305.30" y="1143.20" width="50.30" height="45.60" fill="#50a2e8"/>
<rect x="355.60" y="1143.20" width="50.30" height="45.60" fill="#4c9ce8"/>
<rect x="405.90" y="1143.20" width="50.30" height="45.60" fill="#55aae9"/>
<rect x="456.20" y="1143.20" width="50.30" height="45.60" fill="#4390e8"/>
<rect x="506.50" y="1143.20" width="50.30" height="45.60" fill="#3780e8"/>
<rect x="556.80" y="1143.20" width="50.30" height="45.60" fill="#367fe9"/>
<rect x="607.10" y="1143.20" width="50.30" height="45.60" fill="#50a2e8"/>
<rect x="657.40" y="1143.20" width="50.30" height="45.60" fill="#50a2e8"/>
<rect x="707.70" y="1143.20" width="50.30" height="45.60" fill="#4c9ce8"/>
<rect x="758.00" y="1143.20" width="50.30" height="45.60" fill="#3e8ae8"/>
<rect x="808.30" y="1143.20" width="50.30" height="45.60" fill="#4390e8"/>
<rect x="858.60" y="1143.20" width="50.30" height="45.60" fill="#50a2e8"/>
<rect x="908.90" y="1143.20" width="50.30" height="45.60" fill="#60b9ea"/>
<rect x="959.20" y="1143.20" width="50.30" height="45.60" fill="#a5e9ee"/>
<rect x="1009.50" y="1143.20" width="50.30" height="45.60" fill="#94e1ee"/>
<rect x="1059.80" y="1143.20" width="50.30" height="45.60" fill="#99e4ee"/>
<rect x="1110.10" y="1143.20" width="50.30" height="45.60" fill="#94e1ee"/>
<rect x="1160.40" y="1143.20" width="50.30" height="45.60" fill="#89dcee"/>
<rect x="1210.70" y="1143.20" width="50.30" height="45.60" fill="#adebee"/>
<rect x="1261.00" y="1143.20" width="50.30" height="45.60" fill="#f7e070"/>
<path d="M3.50 2.00V1190.10M53.80 2.00V1190.10M104.10 2.00V1190.10M154.40 2.00V1190.10M204.70 2.00V1190.10M255.00 2.00V1190.10M305.30 2.00V1190.10M355.60 2.00V1190.10M405.90 2.00V1190.10M456.20 2.00V1190.10M506.50 2.00V1190.10M556.80 2.00V1190.10M607.10 2.00V1190.10M657.40 2.00V1190.10M707.70 2.00V1190.10M758.00 2.00V1190.10M808.30 2.00V1190.10M858.60 2.00V1190.10M908.90 2.00V1190.10M959.20 2.00V1190.10M1009.50 2.00V1190.10M1059.80 2.00V1190.10M1110.10 2.00V1190.10M1160.40 2.00V1190.10M1210.70 2.00V1190.10M1261.00 2.00V1190.10M1311.30 2.00V1190.10M2.20 3.30H1312.60M2.20 48.90H1312.60M2.20 94.49H1312.60M2.20 140.09H1312.60M2.20 185.68H1312.60M2.20 231.28H1312.60M2.20 276.88H1312.60M2.20 322.47H1312.60M2.20 368.07H1312.60M2.20 413.66H1312.60M2.20 459.26H1312.60M2.20 504.86H1312.60M2.20 550.45H1312.60M2.20 596.05H1312.60M2.20 641.64H1312.60M2.20 687.24H1312.60M2.20 732.84H1312.60M2.20 778.43H1312.60M2.20 824.03H1312.60M2.20 869.62H1312.60M2.20 915.22H1312.60M2.20 960.82H1312.60M2.20 1006.41H1312.60M2.20 1052.01H1312.60M2.20 1097.60H1312.60M2.20 1143.20H1312.60M2.20 1188.80H1312.60" stroke="#7d9296" stroke-width="2.6" fill="none"/>
<text x="1322.8" y="36.90" font-size="29">hba.ITL6_1_1</text>
<text x="1322.8" y="82.49" font-size="29">hba.ITL5_1</text>
<text x="1322.8" y="128.09" font-size="29">hba.ITL45_1</text>
<text x="1322.8" y="173.69" font-size="29">hba.ITL23_2</text>
<text x="1322.8" y="219.28" font-size="29">hba.PIR</text>
<text x="1322.8" y="264.88" font-size="29">hba.ET</text>
<text x="1322.8" y="310.47" font-size="29">hba.L6B_2</text>
<text x="1322.8" y="356.07" font-size="29">hba.CT_1</text>
<text x="1322.8" y="401.67" font-size="29">hba.NP_1</text>
<text x="1322.8" y="447.26" font-size="29">hba.VIP_6</text>
<text x="1322.8" y="492.86" font-size="29">hba.SNCG_3</text>
<text x="1322.8" y="538.45" font-size="29">hba.LAMP5</text>
<text x="1322.8" y="584.05" font-size="29">hba.PV_ChCs</text>
<text x="1322.8" y="629.65" font-size="29">hba.PVALB_1</text>
<text x="1322.8" y="675.24" font-size="29">hba.SST_1</text>
<text x="1322.8" y="720.84" font-size="29">hba.CNGA_1</text>
<text x="1322.8" y="766.43" font-size="29">hba.CNGA_2</text>
<text x="1322.8" y="812.03" font-size="29">hba.D1CaB</text>
<text x="1322.8" y="857.63" font-size="29">hba.ICGA_2</text>
<text x="1322.8" y="903.22" font-size="29">hba.CBGRC</text>
<text x="1322.8" y="948.82" font-size="29">hba.ACBGM</text>
<text x="1322.8" y="994.41" font-size="29">hba.ASCNT_2</text>
<text x="1322.8" y="1040.01" font-size="29">hba.ASCT_2</text>
<text x="1322.8" y="1085.61" font-size="29">hba.OPC</text>
<text x="1322.8" y="1131.20" font-size="29">hba.OGC_3</text>
<text x="1322.8" y="1176.80" font-size="29">hba.MGC_1</text>
<text transform="translate(39.85,1206.6) rotate(-90)" text-anchor="end" font-size="29.3">mba.004_L6_IT_CTX_Glut</text>
<text transform="translate(90.15,1206.6) rotate(-90)" text-anchor="end" font-size="29.3">mba.005_L5_IT_CTX_Glut</text>
<text transform="translate(140.45,1206.6) rotate(-90)" text-anchor="end" font-size="29.3">mba.006_L4.5_IT_CTX_Glut</text>
<text transform="translate(190.75,1206.6) rotate(-90)" text-anchor="end" font-size="29.3">mba.007_L2.3_IT_CTX_Glut</text>
<text transform="translate(241.05,1206.6) rotate(-90)" text-anchor="end" font-size="29.3">mba.009_L2.3_IT_PIR.ENTl_Glut</text>
<text transform="translate(291.35,1206.6) rotate(-90)" text-anchor="end" font-size="29.3">mba.022_L5_ET_CTX_Glut</text>
<text transform="translate(341.65,1206.6) rotate(-90)" text-anchor="end" font-size="29.3">mba.029_L6b_CTX_Glut</text>
<text transform="translate(391.95,1206.6) rotate(-90)" text-anchor="end" font-size="29.3">mba.030_L6_CT_CTX_Glut</text>
<text transform="translate(442.25,1206.6) rotate(-90)" text-anchor="end" font-size="29.3">mba.032_L5_NP_CTX_Glut</text>
<text transform="translate(492.55,1206.6) rotate(-90)" text-anchor="end" font-size="29.3">mba.046_Vip_Gaba</text>
<text transform="translate(542.85,1206.6) rotate(-90)" text-anchor="end" font-size="29.3">mba.047_Sncg_Gaba</text>
<text transform="translate(593.15,1206.6) rotate(-90)" text-anchor="end" font-size="29.3">mba.049_Lamp5_Gaba</text>
<text transform="translate(643.45,1206.6) rotate(-90)" text-anchor="end" font-size="29.3">mba.051_Pvalb_chandelier_Gaba</text>
<text transform="translate(693.75,1206.6) rotate(-90)" text-anchor="end" font-size="29.3">mba.052_Pvalb_Gaba</text>
<text transform="translate(744.05,1206.6) rotate(-90)" text-anchor="end" font-size="29.3">mba.053_Sst_Gaba</text>
<text transform="translate(794.35,1206.6) rotate(-90)" text-anchor="end" font-size="29.3">mba.054_STR_Prox1_Lhx6_Gaba</text>
<text transform="translate(844.65,1206.6) rotate(-90)" text-anchor="end" font-size="29.3">mba.055_STR_Lhx8_Gaba</text>
<text transform="translate(894.95,1206.6) rotate(-90)" text-anchor="end" font-size="29.3">mba.061_STR_D1_Gaba</text>
<text transform="translate(945.25,1206.6) rotate(-90)" text-anchor="end" font-size="29.3">mba.198_IC_Six3_En2_Gaba</text>
<text transform="translate(995.55,1206.6) rotate(-90)" text-anchor="end" font-size="29.3">mba.314_CB_Granule_Glut</text>
<text transform="translate(1045.85,1206.6) rotate(-90)" text-anchor="end" font-size="29.3">mba.316_Bergmann_NN</text>
<text transform="translate(1096.15,1206.6) rotate(-90)" text-anchor="end" font-size="29.3">mba.318_Astro.NT_NN</text>
<text transform="translate(1146.45,1206.6) rotate(-90)" text-anchor="end" font-size="29.3">mba.319_Astro.TE_NN</text>
<text transform="translate(1196.75,1206.6) rotate(-90)" text-anchor="end" font-size="29.3">mba.326_OPC_NN</text>
<text transform="translate(1247.05,1206.6) rotate(-90)" text-anchor="end" font-size="29.3">mba.327_Oligo_NN</text>
<text transform="translate(1297.35,1206.6) rotate(-90)" text-anchor="end" font-size="29.3">mba.334_Microglia_NN</text>
<text x="1654" y="468.4" font-size="29.2">Correlation</text>
<defs><linearGradient id="lg" x1="0" y1="0" x2="0" y2="1"><stop offset="0.1265" stop-color="#ec141e"/><stop offset="0.1830" stop-color="#ec2828"/><stop offset="0.2206" stop-color="#f0463c"/><stop offset="0.2676" stop-color="#f2694e"/><stop offset="0.3146" stop-color="#f4925c"/><stop offset="0.3617" stop-color="#f6b866"/><stop offset="0.4087" stop-color="#f7dc6e"/><stop offset="0.4557" stop-color="#f5ef7a"/><stop offset="0.5028" stop-color="#eff68e"/><stop offset="0.5498" stop-color="#e8f6b9"/><stop offset="0.5968" stop-color="#def6e0"/><stop offset="0.6438" stop-color="#c3f3ee"/><stop offset="0.6909" stop-color="#9ee6ee"/><stop offset="0.7379" stop-color="#84daee"/><stop offset="0.7849" stop-color="#6ac8ec"/><stop offset="0.8320" stop-color="#50a2e8"/><stop offset="0.8790" stop-color="#3a84e8"/><stop offset="0.9730" stop-color="#2c72ea"/></linearGradient></defs>
<rect x="1654.5" y="499.1" width="53.60" height="326.40" fill="url(#lg)"/>
<path d="M1654.5 509.70H1667.5M1696.1 509.70H1708.1" stroke="#ffffff" stroke-opacity="0.85" stroke-width="3"/>
<text x="1719.2" y="521.20" font-size="24">0.7</text>
<path d="M1654.5 571.10H1667.5M1696.1 571.10H1708.1" stroke="#ffffff" stroke-opacity="0.85" stroke-width="3"/>
<text x="1719.2" y="582.60" font-size="24">0.6</text>
<path d="M1654.5 632.50H1667.5M1696.1 632.50H1708.1" stroke="#ffffff" stroke-opacity="0.85" stroke-width="3"/>
<text x="1719.2" y="644.00" font-size="24">0.5</text>
<path d="M1654.5 693.90H1667.5M1696.1 693.90H1708.1" stroke="#ffffff" stroke-opacity="0.85" stroke-width="3"/>
<text x="1719.2" y="705.40" font-size="24">0.4</text>
<path d="M1654.5 755.30H1667.5M1696.1 755.30H1708.1" stroke="#ffffff" stroke-opacity="0.85" stroke-width="3"/>
<text x="1719.2" y="766.80" font-size="24">0.3</text>
<path d="M1654.5 816.70H1667.5M1696.1 816.70H1708.1" stroke="#ffffff" stroke-opacity="0.85" stroke-width="3"/>
<text x="1719.2" y="828.20" font-size="24">0.2</text>
</svg></body></html>
